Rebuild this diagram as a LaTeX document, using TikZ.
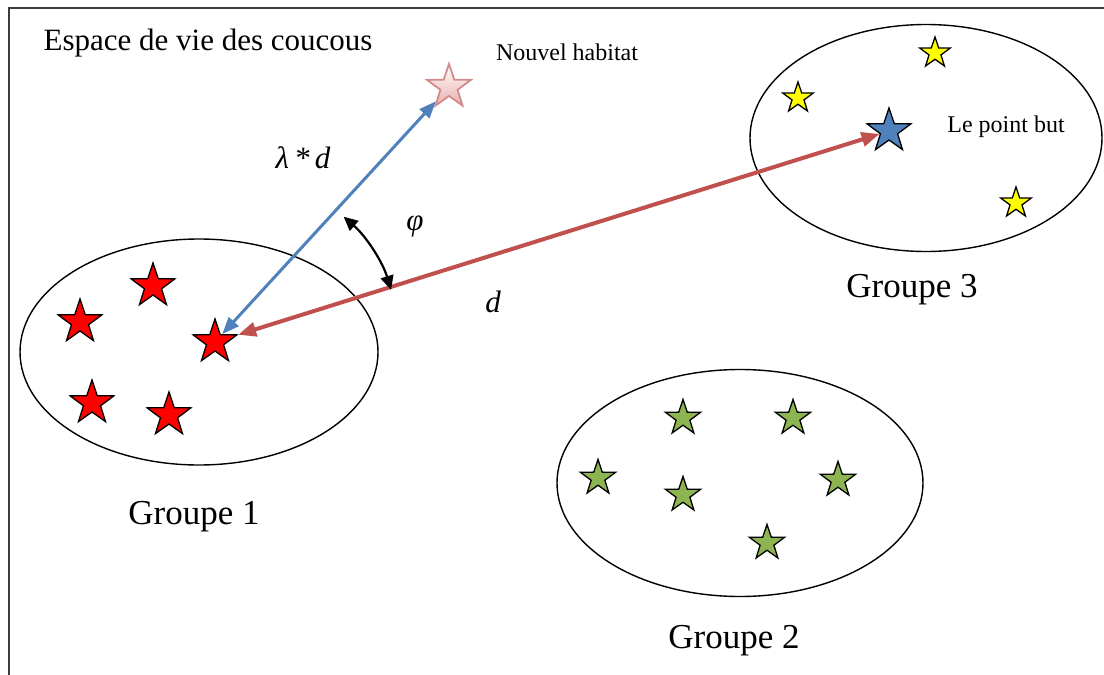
\documentclass[tikz,border=0pt]{standalone}
\usepackage{fontspec}
\setmainfont{Liberation Serif}
\usetikzlibrary{shapes.geometric,arrows.meta}
\definecolor{redstar}{RGB}{255,0,0}
\definecolor{greenstar}{RGB}{140,180,80}
\definecolor{yellowstar}{RGB}{255,255,0}
\definecolor{bluestar}{RGB}{79,129,189}
\definecolor{arrowblue}{RGB}{79,129,189}
\definecolor{arrowred}{RGB}{192,80,77}
\definecolor{fadedfill}{RGB}{235,175,175}
\definecolor{fadeddraw}{RGB}{210,140,140}
\definecolor{framegray}{RGB}{60,60,60}
\tikzset{
  cstar/.style={star, star points=5, star point ratio=2.55, draw=black, line width=1.3pt, inner sep=0pt, minimum size=#1},
  grp/.style={ellipse, draw=black, line width=1.4pt, inner sep=0pt},
  lbl/.style={inner sep=0pt, text=black},
  bluearrow/.style={draw=arrowblue, line width=3pt, {Triangle[length=17pt,width=13pt]}-{Triangle[length=17pt,width=13pt]}},
  redarrow/.style={draw=arrowred, line width=4pt, {Triangle[length=18pt,width=14pt]}-{Triangle[length=18pt,width=14pt]}},
  anglearrow/.style={draw=black, line width=2.2pt, {Triangle[length=14pt,width=13pt]}-{Triangle[length=14pt,width=13pt]}},
}
\begin{document}
\begin{tikzpicture}[x=1pt,y=-1pt]
\useasboundingbox (0,0) rectangle (1104,675);
\fill[white] (0,0) rectangle (1104,675);
\draw[framegray, line width=2pt] (9,676) -- (9,8) -- (1105,8);

% groups
\node[grp, minimum width=358pt, minimum height=226pt] (g1) at (199,352) {};
\node[grp, minimum width=366pt, minimum height=227pt] (g2) at (740,483) {};
\node[grp, minimum width=352pt, minimum height=227pt] (g3) at (926,138) {};

% red stars
\node[cstar=46pt, fill=redstar] (r1) at (153,286) {};
\node[cstar=46pt, fill=redstar] (r2) at (80,322) {};
\node[cstar=46pt, fill=redstar] (r3) at (215,342) {};
\node[cstar=46pt, fill=redstar] (r4) at (92,403) {};
\node[cstar=46pt, fill=redstar] (r5) at (169,415) {};

% green stars
\node[cstar=37pt, fill=greenstar] (v1) at (683,418) {};
\node[cstar=37pt, fill=greenstar] (v2) at (793,418) {};
\node[cstar=37pt, fill=greenstar] (v3) at (598,478) {};
\node[cstar=37pt, fill=greenstar] (v4) at (838,480) {};
\node[cstar=37pt, fill=greenstar] (v5) at (683,495) {};
\node[cstar=37pt, fill=greenstar] (v6) at (767,543) {};

% yellow stars
\node[cstar=32pt, fill=yellowstar] (y1) at (935,53) {};
\node[cstar=32pt, fill=yellowstar] (y2) at (798,98) {};
\node[cstar=32pt, fill=yellowstar] (y3) at (1016,203) {};

% goal star
\node[cstar=46pt, fill=bluestar] (bs) at (889,131) {};

% new habitat star
\node[star, star points=5, star point ratio=2.55, draw=fadeddraw, line width=1.8pt, inner sep=0pt, minimum size=46pt, top color=white, bottom color=fadedfill] (new) at (449,87) {};

% arrows
\draw[bluearrow] (r3) -- (new);
\draw[redarrow] (r3) -- (bs);
\coordinate (vx) at (240,336);
\draw[anglearrow] ([shift={(vx)}]-49:158) arc[start angle=-49, end angle=-17, radius=158];

% labels
\node[lbl, font=\fontsize{31}{36}\selectfont] (t1) at (208,43) {Espace de vie des coucous};
\node[lbl, font=\fontsize{24}{28}\selectfont] (t2) at (567,52) {Nouvel habitat};
\node[lbl, font=\fontsize{24}{28}\selectfont] (t3) at (1006,127) {Le point but};
\node[lbl, font=\fontsize{35}{40}\selectfont] (t4) at (194,517) {Groupe 1};
\node[lbl, font=\fontsize{35}{40}\selectfont] (t5) at (734,641) {Groupe 2};
\node[lbl, font=\fontsize{35}{40}\selectfont] (t6) at (912,290) {Groupe 3};
\node[lbl, font=\fontsize{31}{36}\selectfont\itshape] (t7) at (303,158) {λ\,*\,d};
\node[lbl, font=\fontsize{31}{36}\selectfont\itshape] (t8) at (415,226) {φ};
\node[lbl, font=\fontsize{31}{36}\selectfont\itshape] (t9) at (493,302) {d};
\end{tikzpicture}
\end{document}
